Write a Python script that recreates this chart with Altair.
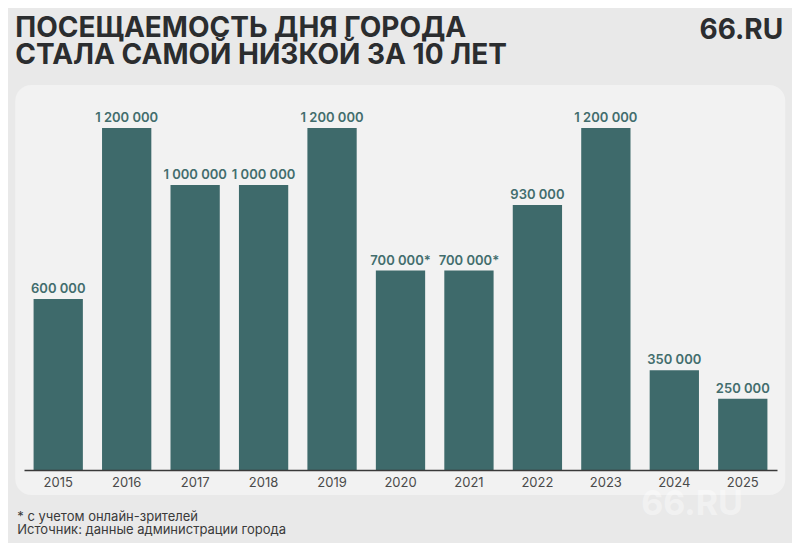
import altair as alt
import pandas as pd

years = ["2015", "2016", "2017", "2018", "2019", "2020", "2021", "2022", "2023", "2024", "2025"]
visitors = [600000, 1200000, 1000000, 1000000, 1200000, 700000, 700000, 930000, 1200000, 350000, 250000]
labels = ["600 000", "1 200 000", "1 000 000", "1 000 000", "1 200 000", "700 000*", "700 000*",
          "930 000", "1 200 000", "350 000", "250 000"]

title_lines = ["ПОСЕЩАЕМОСТЬ ДНЯ ГОРОДА", "СТАЛА САМОЙ НИЗКОЙ ЗА 10 ЛЕТ"]
brand = "66.RU"
notes = ["* с учетом онлайн-зрителей", "Источник: данные администрации города"]

df = pd.DataFrame({"year": years, "value": visitors, "label": labels})
one = pd.DataFrame({"k": [0]})

FONT = "Inter"
BAR = "#3e6a6b"
TXT = "#2b2d2f"

x = alt.X("year:N", sort=years, title=None,
          scale=alt.Scale(paddingInner=0.28, paddingOuter=0.14),
          axis=alt.Axis(labelAngle=0, ticks=False, labelFont=FONT, labelFontSize=13,
                        labelColor="#4a4a4a", labelPadding=6, domainColor="#3a3a3a",
                        domainWidth=1.5, grid=False, zindex=1))
y = alt.Y("value:Q", title=None, axis=None,
          scale=alt.Scale(domain=[0, 1200000], nice=False, zero=True))

panel = alt.Chart(one).mark_rect(fill="#f2f2f2", cornerRadius=16).encode(
    x=alt.value(-8.75), x2=alt.value(761.25), y=alt.value(-43), y2=alt.value(367))

wm = alt.Chart(one).mark_text(text=brand, font=FONT, fontSize=34, fontWeight="bold",
                              color="#ffffff", opacity=0.4, align="center",
                              baseline="middle").encode(
    x=alt.value(668), y=alt.value(377))

bars = alt.Chart(df).mark_bar(color=BAR).encode(x=x, y=y)

vals = alt.Chart(df).mark_text(font=FONT, fontSize=13, fontWeight=600, color="#426d6d",
                               baseline="alphabetic", dy=-6).encode(
    x=x, y=y, text="label:N")

t1 = alt.Chart(one).mark_text(text=title_lines[0], font=FONT, fontSize=28, fontWeight="bold",
                              color=TXT, align="left", baseline="alphabetic").encode(
    x=alt.value(-8.75), y=alt.value(-91))
t2 = alt.Chart(one).mark_text(text=title_lines[1], font=FONT, fontSize=28, fontWeight="bold",
                              color=TXT, align="left", baseline="alphabetic").encode(
    x=alt.value(-8.75), y=alt.value(-64))
br = alt.Chart(one).mark_text(text=brand, font=FONT, fontSize=28, fontWeight="bold",
                              color=TXT, align="right", baseline="alphabetic").encode(
    x=alt.value(759.25), y=alt.value(-89))
n1 = alt.Chart(one).mark_text(text=notes[0], font=FONT, fontSize=13,
                              color="#3a3a3a", align="left", baseline="alphabetic").encode(
    x=alt.value(-6.75), y=alt.value(393))
n2 = alt.Chart(one).mark_text(text=notes[1], font=FONT, fontSize=13,
                              color="#3a3a3a", align="left", baseline="alphabetic").encode(
    x=alt.value(-6.75), y=alt.value(406))

chart = alt.layer(panel, wm, bars, vals, t1, t2, br, n1, n2).properties(
    width=753, height=342,
    autosize=alt.AutoSizeParams(type="none"),
    padding={"left": 16, "top": 120, "right": 15, "bottom": 73},
    background="#e9e9e9",
).configure_view(stroke=None)

chart.save("out.html", embed_options={"renderer": "svg", "actions": False})
